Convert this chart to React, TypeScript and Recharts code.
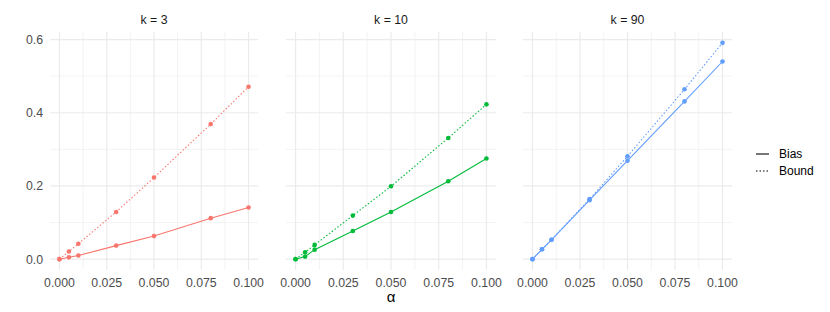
import { LineChart, Line, XAxis, YAxis, ReferenceLine, Legend } from "recharts";

const ALPHA = [0, 0.005, 0.01, 0.03, 0.05, 0.08, 0.1];
const FACETS = ["k = 3", "k = 10", "k = 90"];
const COLORS = ["#F8766D", "#00BA38", "#619CFF"];

const BIAS_K3 = [0, 0.005, 0.01, 0.037, 0.063, 0.112, 0.141];
const BOUND_K3 = [0, 0.021, 0.042, 0.129, 0.223, 0.369, 0.471];
const BIAS_K10 = [0, 0.007, 0.026, 0.077, 0.129, 0.213, 0.275];
const BOUND_K10 = [0, 0.019, 0.039, 0.119, 0.199, 0.331, 0.423];
const BIAS_K90 = [0, 0.027, 0.053, 0.161, 0.269, 0.431, 0.54];
const BOUND_K90 = [0, 0.027, 0.053, 0.164, 0.281, 0.464, 0.591];

const X_TICKS = [0, 0.025, 0.05, 0.075, 0.1];
const X_MINOR = [0.0125, 0.0375, 0.0625, 0.0875];
const Y_TICKS = [0, 0.2, 0.4, 0.6];
const Y_MINOR = [0.1, 0.3, 0.5];

const FONT = "'Liberation Sans', Arial, sans-serif";
const FS = 12.3;
const GRID = "#EBEBEB";
const PAD = 20; // room so edge tick labels are not clipped

function LegendBox() {
  const rows = [
    { name: "Bias", dash: undefined },
    { name: "Bound", dash: "1.5 2" },
  ];
  return (
    <div style={{ fontFamily: FONT, fontSize: 12, color: "#000" }}>
      {rows.map((r) => (
        <div key={r.name} style={{ display: "flex", alignItems: "center", height: 16.7 }}>
          <svg width={13} height={10} style={{ marginRight: 10 }}>
            <line x1={0} y1={5} x2={13} y2={5} stroke="#000" strokeWidth={1.07} strokeDasharray={r.dash} />
          </svg>
          <span>{r.name}</span>
        </div>
      ))}
    </div>
  );
}

type PanelProps = {
  idx: number;
  bias: number[];
  bound: number[];
  plotLeft: number; // page x of panel's left edge
  plotWidth: number;
  showY: boolean;
  legend?: boolean;
};

function Panel({ idx, bias, bound, plotLeft, plotWidth, showY, legend }: PanelProps) {
  const data = ALPHA.map((a, i) => ({ alpha: a, bias: bias[i], bound: bound[i] }));
  const color = COLORS[idx];
  const yW = showY ? 50 : 0;
  const mLeft = showY ? 0 : PAD;
  const mRight = legend ? 110 : PAD;
  const width = mLeft + yW + plotWidth + mRight;
  const left = plotLeft - yW - mLeft;
  return (
    <div style={{ position: "absolute", left, top: 0 }}>
      <div
        style={{
          position: "absolute",
          left: mLeft + yW,
          width: plotWidth,
          top: 13,
          textAlign: "center",
          fontFamily: FONT,
          fontSize: FS,
          color: "#1A1A1A",
        }}
      >
        {FACETS[idx]}
      </div>
      <LineChart
        width={width}
        height={312}
        data={data}
        margin={{ top: 32, right: mRight, bottom: 0, left: mLeft }}
      >
        <XAxis
          dataKey="alpha"
          type="number"
          domain={[-0.005, 0.105]}
          ticks={X_TICKS}
          tickFormatter={(v: number) => v.toFixed(3)}
          axisLine={false}
          tickLine={false}
          tickSize={4}
          tickMargin={4}
          height={42}
          allowDataOverflow
          interval={0}
          tick={{ fill: "#4D4D4D", fontSize: FS, fontFamily: FONT }}
        />
        <YAxis
          type="number"
          domain={[-0.0296, 0.6206]}
          ticks={Y_TICKS}
          hide={!showY}
          width={50}
          tickFormatter={(v: number) => v.toFixed(1)}
          axisLine={false}
          tickLine={false}
          tickSize={5}
          tickMargin={2}
          allowDataOverflow
          interval={0}
          tick={{ fill: "#4D4D4D", fontSize: FS, fontFamily: FONT }}
        />
        {Y_MINOR.map((y) => (
          <ReferenceLine key={"ym" + y} y={y} stroke={GRID} strokeWidth={0.6} />
        ))}
        {X_MINOR.map((x) => (
          <ReferenceLine key={"xm" + x} x={x} stroke={GRID} strokeWidth={0.6} />
        ))}
        {Y_TICKS.map((y) => (
          <ReferenceLine key={"y" + y} y={y} stroke={GRID} strokeWidth={1.2} />
        ))}
        {X_TICKS.map((x) => (
          <ReferenceLine key={"x" + x} x={x} stroke={GRID} strokeWidth={1.2} />
        ))}
        <Line
          dataKey="bound"
          stroke={color}
          strokeWidth={1.07}
          strokeDasharray="1.5 2"
          dot={{ r: 2.3, fill: color, stroke: "none" }}
          activeDot={false}
          isAnimationActive={false}
        />
        <Line
          dataKey="bias"
          stroke={color}
          strokeWidth={1.07}
          dot={{ r: 2.3, fill: color, stroke: "none" }}
          activeDot={false}
          isAnimationActive={false}
        />
        {legend && (
          <Legend
            layout="vertical"
            verticalAlign="middle"
            align="center"
            content={() => <LegendBox />}
            wrapperStyle={{ left: mLeft + plotWidth + 24, top: 146, width: 80 }}
          />
        )}
      </LineChart>
    </div>
  );
}

export default function App() {
  return (
    <div
      style={{
        position: "absolute",
        left: 0,
        top: 0,
        width: 830,
        height: 312,
        background: "#fff",
        overflow: "hidden",
      }}
    >
      <Panel idx={0} bias={BIAS_K3} bound={BOUND_K3} plotLeft={50} plotWidth={208} showY />
      <Panel idx={1} bias={BIAS_K10} bound={BOUND_K10} plotLeft={286} plotWidth={210} showY={false} />
      <Panel idx={2} bias={BIAS_K90} bound={BOUND_K90} plotLeft={523} plotWidth={209} showY={false} legend />
      <div
        style={{
          position: "absolute",
          left: 50,
          width: 682,
          top: 291,
          lineHeight: "11px",
          textAlign: "center",
          fontFamily: FONT,
          fontSize: 15,
          color: "#000",
        }}
      >
        α
      </div>
    </div>
  );
}
